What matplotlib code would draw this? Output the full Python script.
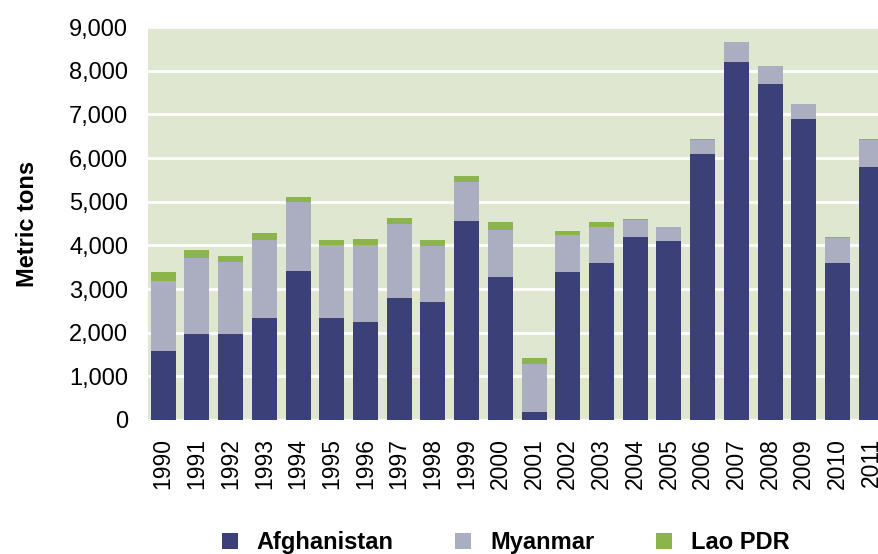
import matplotlib
matplotlib.use("Agg")
import matplotlib.pyplot as plt
import numpy as np

plt.rcParams['font.family'] = ['Liberation Sans', 'DejaVu Sans']

# Opium production, metric tons
years = [str(y) for y in range(1990, 2012)]
afghanistan = [1570, 1980, 1970, 2330, 3416, 2335, 2248, 2804, 2693, 4565, 3276,
               185, 3400, 3600, 4200, 4100, 6100, 8200, 7700, 6900, 3600, 5800]
myanmar = [1621, 1728, 1660, 1791, 1583, 1664, 1760, 1676, 1303, 895, 1087,
           1097, 828, 810, 370, 312, 315, 460, 410, 330, 580, 610]
lao_pdr = [202, 196, 127, 169, 120, 128, 140, 147, 124, 124, 167,
           134, 112, 120, 43, 14, 20, 9, 10, 11, 18, 25]

labels = ["Afghanistan", "Myanmar", "Lao PDR"]
colors = ["#3B4079", "#ABAEC1", "#8BB54A"]

fig = plt.figure(figsize=(8.79, 5.54), dpi=100)
ax = fig.add_axes([0.168, 0.242, 0.832, 0.709])
ax.set_facecolor("#DFE7D1")

x = np.arange(len(years))
w = 0.74
afg = np.array(afghanistan)
mya = np.array(myanmar)
lao = np.array(lao_pdr)
ax.bar(x, afg, w, color=colors[0], label=labels[0], zorder=3)
ax.bar(x, mya, w, bottom=afg, color=colors[1], label=labels[1], zorder=3)
ax.bar(x, lao, w, bottom=afg + mya, color=colors[2], label=labels[2], zorder=3)

ax.set_ylim(0, 9000)
ax.set_xlim(-0.46, 21.23)
ax.set_yticks(range(0, 9001, 1000))
ax.set_yticklabels([f"{v:,}" for v in range(0, 9001, 1000)], fontsize=17)
ax.set_xticks(x)
ax.set_xticklabels(years, rotation=90, fontsize=16.5)
ax.tick_params(axis='y', length=0, pad=14)
ax.tick_params(axis='x', length=0, pad=13)
ax.yaxis.grid(True, color="white", linewidth=2)
ax.set_axisbelow(True)
for s in ax.spines.values():
    s.set_visible(False)

ax.set_ylabel("Metric tons", fontsize=17, fontweight="bold", labelpad=22)

fig.legend(loc="center", bbox_to_anchor=(0.575, 0.02), ncol=3, frameon=False,
           prop={'weight': 'bold', 'size': 17}, handlelength=0.68, handleheight=0.68,
           columnspacing=2.6, handletextpad=0.8, borderaxespad=0)

fig.savefig("out.png", dpi=100)
